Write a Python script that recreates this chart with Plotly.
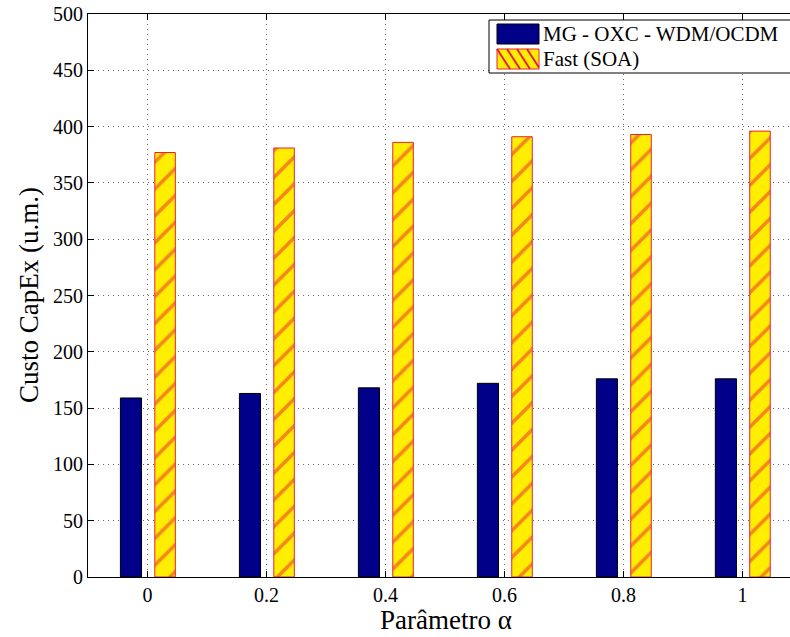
import plotly.graph_objects as go

alpha = [0, 0.2, 0.4, 0.6, 0.8, 1.0]
mg_oxc = [159, 163, 168, 172, 176, 176]
fast_soa = [377, 381, 386, 391, 393, 396]
y_ticks = [0, 50, 100, 150, 200, 250, 300, 350, 400, 450, 500]
x_ticks = [0, 0.2, 0.4, 0.6, 0.8, 1]
x_tick_text = ["0", "0.2", "0.4", "0.6", "0.8", "1"]
series_names = ["MG - OXC - WDM/OCDM", "Fast (SOA)"]

font = "Liberation Serif"
BLUE = "#000088"
YEL = "#FFEE00"
RED = "#E8203A"

W, H = 790, 637
L, R, T, B = 88, 0, 14, 60
PW, PH = W - L - R, H - T - B


def px(x):
    return (x - L) / PW


def py(y):
    return (H - B - y) / PH


fig = go.Figure()
fig.add_trace(go.Bar(
    x=alpha, y=mg_oxc, name=series_names[0], showlegend=False,
    offset=-0.0455, width=0.0355,
    marker=dict(color=BLUE, line=dict(color="black", width=1)),
))
fig.add_trace(go.Bar(
    x=alpha, y=fast_soa, name=series_names[1], showlegend=False,
    offset=0.0123, width=0.0345,
    marker=dict(color=YEL, line=dict(color=RED, width=1),
                pattern=dict(shape="/", fgcolor=RED, bgcolor=YEL,
                             size=19, solidity=0.19, fillmode="overlay")),
))

shapes = []
# legend box
shapes.append(dict(type="rect", xref="paper", yref="paper",
                   x0=px(489), x1=px(800), y0=py(73), y1=py(20),
                   line=dict(color="black", width=1), fillcolor="white", layer="above"))
# swatch 1
shapes.append(dict(type="rect", xref="paper", yref="paper",
                   x0=px(497), x1=px(539), y0=py(44), y1=py(24),
                   line=dict(color="black", width=1), fillcolor=BLUE, layer="above"))
# swatch 2
shapes.append(dict(type="rect", xref="paper", yref="paper",
                   x0=px(497), x1=px(539), y0=py(69), y1=py(49),
                   line=dict(color=RED, width=1), fillcolor=YEL, layer="above"))
for sx in [497, 507, 517, 527]:
    x_start = sx
    x_end = min(sx + 13, 539)
    y_end = 49 + (x_end - x_start) * 20 / 13
    shapes.append(dict(type="line", xref="paper", yref="paper",
                       x0=px(x_start), x1=px(x_end), y0=py(49), y1=py(min(y_end, 69)),
                       line=dict(color=RED, width=2), layer="above"))

annotations = [
    dict(text=series_names[0], xref="paper", yref="paper", x=px(541), y=py(34),
         xanchor="left", yanchor="middle", showarrow=False,
         font=dict(size=21, family=font, color="black")),
    dict(text=series_names[1], xref="paper", yref="paper", x=px(541), y=py(59),
         xanchor="left", yanchor="middle", showarrow=False,
         font=dict(size=21, family=font, color="black")),
    dict(text="Parâmetro α", xref="paper", yref="paper", x=px(446), y=py(620),
         xanchor="center", yanchor="middle", showarrow=False,
         font=dict(size=27, family=font, color="black")),
    dict(text="Custo CapEx (u.m.)", xref="paper", yref="paper", x=px(29), y=py(295),
         xanchor="center", yanchor="middle", showarrow=False, textangle=-90,
         font=dict(size=27, family=font, color="black")),
]

fig.update_layout(
    width=W, height=H,
    margin=dict(l=L, r=R, t=T, b=B, autoexpand=False),
    barmode="overlay",
    plot_bgcolor="white", paper_bgcolor="white",
    font=dict(family=font, color="black", size=20),
    xaxis=dict(
        range=[-0.1, 1.08], tickvals=x_ticks, ticktext=x_tick_text,
        showline=True, linecolor="black", linewidth=1, mirror="ticks",
        ticks="inside", ticklen=6, tickcolor="black",
        showgrid=True, gridcolor="#666666", griddash="1px,4px", gridwidth=1,
        zeroline=False, automargin=False,
        tickfont=dict(size=20, family=font),
    ),
    yaxis=dict(
        range=[0, 500], tickvals=y_ticks,
        showline=True, linecolor="black", linewidth=1, mirror=False,
        ticks="inside", ticklen=6, tickcolor="black",
        showgrid=True, gridcolor="#666666", griddash="1px,4px", gridwidth=1,
        zeroline=False, automargin=False,
        tickfont=dict(size=20, family=font),
    ),
    shapes=shapes,
    annotations=annotations,
    showlegend=False,
)

fig.write_html(
    "out.html",
    config={"displayModeBar": False},
    post_script="document.body.style.margin='0';document.body.style.overflow='hidden';",
)
